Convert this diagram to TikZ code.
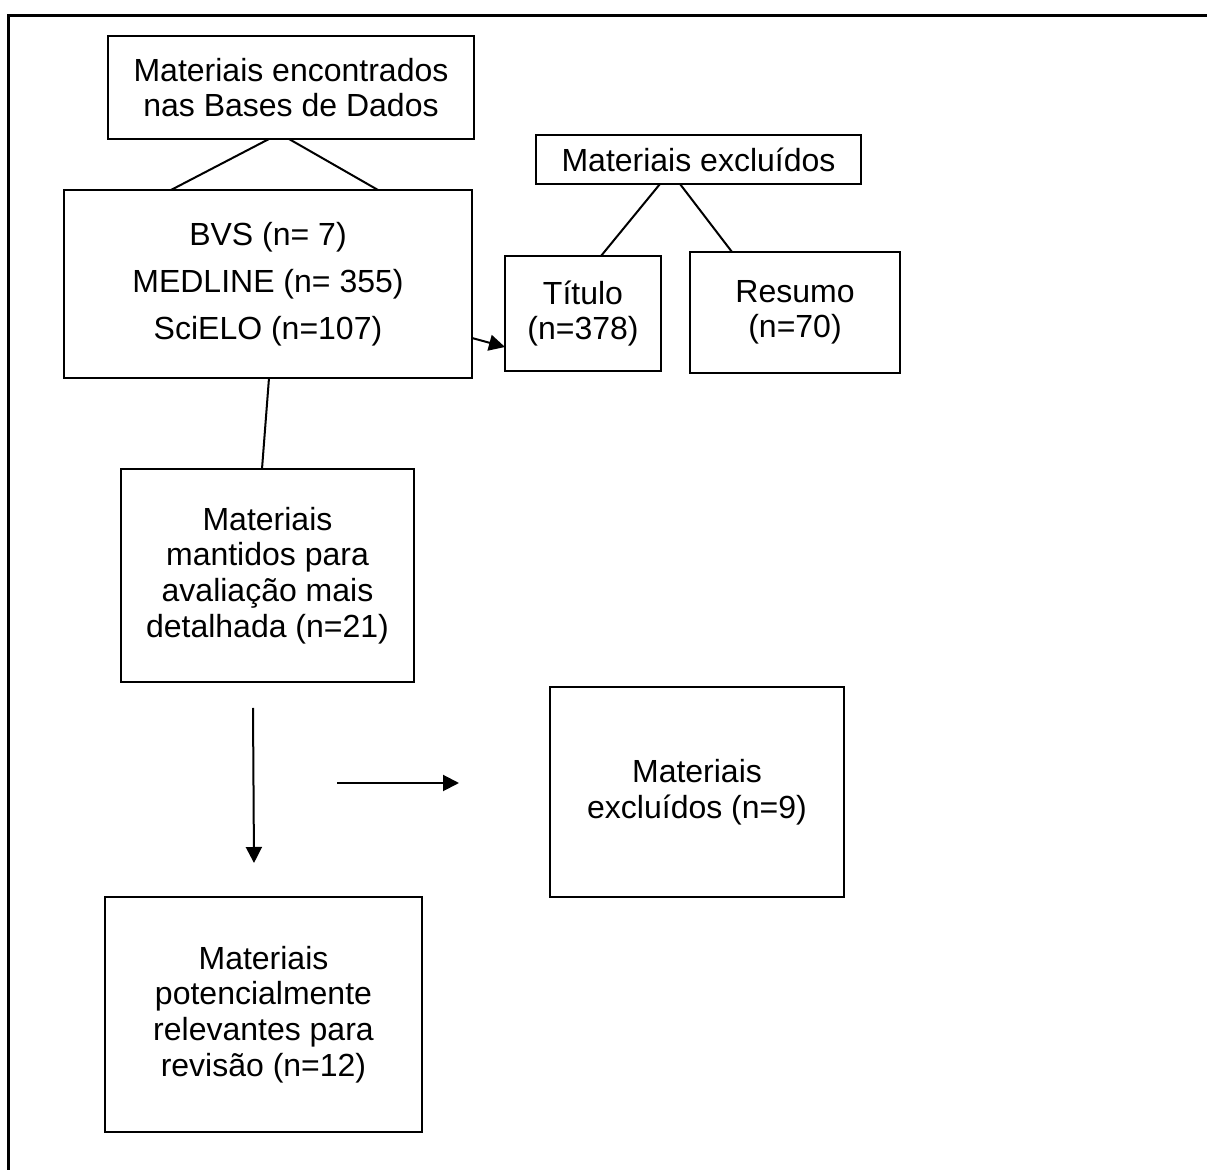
\documentclass[tikz,border=0pt]{standalone}
\usepackage{fontspec}
\setmainfont{Liberation Sans}
\usetikzlibrary{arrows.meta,calc}
\begin{document}
\begin{tikzpicture}[x=0.5pt,y=-0.5pt,
  box/.style={draw,line width=1.2pt,inner sep=0pt,outer sep=0pt,align=center,
    font=\fontsize{16}{17.8}\selectfont},
  conn/.style={line width=1pt},
  arr/.style={line width=1pt,-{Triangle[length=8pt,width=8pt]}}]
\useasboundingbox (0,0) rectangle (1207,1170);
\draw[line width=1.5pt] (1207,16) -- (8,16) -- (8,1170);
\node[box,minimum width=183pt,minimum height=51.5pt] (A) at (291,87.5) {Materiais encontrados\\nas Bases de Dados};
\node[box,minimum width=204pt,minimum height=94pt,font=\fontsize{16}{23.5}\selectfont] (B) at (268,284) {BVS (n= 7)\\MEDLINE (n= 355)\\SciELO (n=107)};
\node[box,minimum width=162.5pt,minimum height=24.5pt] (X) at (698.5,159.5) {Materiais excluídos};
\node[box,minimum width=78pt,minimum height=57.5pt] (T) at (583,313.5) {Título\\(n=378)};
\node[box,minimum width=105pt,minimum height=60.5pt] (R) at (795,312.5) {Resumo\\(n=70)};
\node[box,minimum width=146.5pt,minimum height=106.5pt] (C) at (267.5,575.5) {Materiais\\mantidos para\\avaliação mais\\detalhada (n=21)};
\node[box,minimum width=147pt,minimum height=105pt] (D) at (697,792) {Materiais\\excluídos (n=9)};
\node[box,minimum width=158.5pt,minimum height=117.5pt] (E) at (263.5,1014.5) {Materiais\\potencialmente\\relevantes para\\revisão (n=12)};
\coordinate (d1) at ($(C.south)+(-14.5,26)$);
\coordinate (d2) at ($(E.north)+(-9.5,-34)$);
\coordinate (r1) at ($(D.west)+(-213,-9)$);
\coordinate (r2) at ($(D.west)+(-91,-9)$);
\draw[conn] ($(A.south)+(-22,0)$) -- ($(B.north)+(-97,0)$);
\draw[conn] ($(A.south)+(-2,0)$) -- ($(B.north)+(110,0)$);
\draw[conn] ($(X.south)+(-38.5,0)$) -- ($(T.north)+(18,0)$);
\draw[conn] ($(X.south)+(-18.5,0)$) -- ($(R.north)+(-63,0)$);
\draw[arr] ($(B.east)+(0,54)$) -- ($(T.west)+(0,33.5)$);
\draw[conn] ($(B.south)+(1,0)$) -- ($(C.north)+(-5.5,0)$);
\draw[arr] (d1) -- (d2);
\draw[arr] (r1) -- (r2);
\end{tikzpicture}
\end{document}
